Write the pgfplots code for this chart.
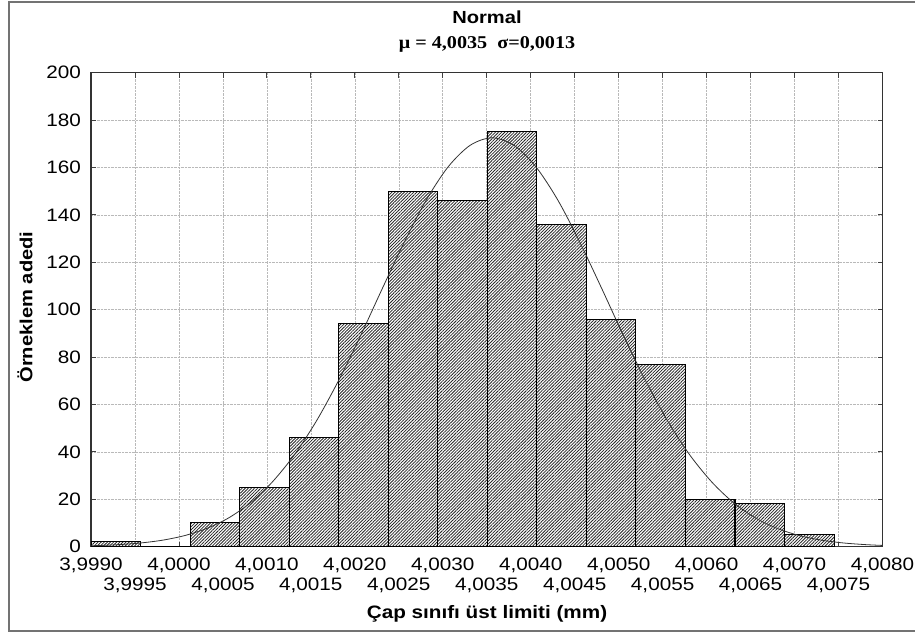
\documentclass[border=0pt]{standalone}
\usepackage{pgfplots}
\pgfplotsset{compat=1.18}
\usetikzlibrary{patterns.meta}
\usepackage{fontspec}
\setmainfont{Liberation Sans}[FakeStretch=1.15]
\newfontfamily\serifb{Liberation Serif}[FakeStretch=1.12]
\begin{document}
\begin{tikzpicture}
\useasboundingbox[fill=white] (0pt,0pt) rectangle (915pt,-637pt);
\begin{axis}[
  at={(91pt,-546.6pt)}, anchor=south west, scale only axis,
  width=791.5pt, height=474pt,
  xmin=0, xmax=9, ymin=0, ymax=200,
  xtick={0,1,2,3,4,5,6,7,8,9},
  xticklabels={3{,}9990,4{,}0000,4{,}0010,4{,}0020,4{,}0030,4{,}0040,4{,}0050,4{,}0060,4{,}0070,4{,}0080},
  extra x ticks={0.5,1.5,2.5,3.5,4.5,5.5,6.5,7.5,8.5},
  extra x tick labels={3{,}9995,4{,}0005,4{,}0015,4{,}0025,4{,}0035,4{,}0045,4{,}0055,4{,}0065,4{,}0075},
  extra x tick style={grid=major, xticklabel style={yshift=-19.3pt}},
  ytick={0,20,...,200},
  /pgf/number format/assume math mode=true,
  grid=major,
  major grid style={densely dotted, gray!55, line width=0.6pt},
  tick align=inside, major tick length=5pt,
  tick style={black!75, line width=0.8pt},
  axis line style={black!80, line width=1.2pt},
  xticklabel style={anchor=center, yshift=-19pt, font=\fontsize{18}{18}\selectfont},
  yticklabel style={anchor=east, inner sep=0pt, xshift=-10pt, font=\fontsize{18}{18}\selectfont},
]
\addplot[ybar interval, draw=black, line width=1.1pt, fill=white,
  postaction={pattern={Lines[angle=45,distance=2.2pt,line width=0.8pt]}, pattern color=black!85}]
  coordinates {
  (0,2) (0.5633,0) (1.1266,10) (1.6899,25) (2.2532,46) (2.8165,94)
  (3.3798,150) (3.9431,146) (4.5064,175) (5.0697,136) (5.6330,96)
  (6.1963,77) (6.7596,20) (7.3229,18) (7.8862,5) (8.4495,5)
  };
\addplot[smooth, black!80, line width=0.8pt] coordinates {
  (0,0.40) (0.06,0.43) (0.31,0.83) (0.56,1.52) (0.81,2.69) (1.06,4.60)
  (1.31,7.58) (1.56,12.0) (1.81,18.4) (2.06,27.2) (2.31,38.6) (2.56,52.8)
  (2.81,69.7) (3.06,88.6) (3.31,108.7) (3.56,128.3) (3.81,146.1) (4.06,160.2)
  (4.31,169.3) (4.56,172.5) (4.81,169.3) (5.06,160.2) (5.31,146.1) (5.56,128.3)
  (5.81,108.7) (6.06,88.6) (6.31,69.7) (6.56,52.8) (6.81,38.6) (7.06,27.2)
  (7.31,18.4) (7.56,12.0) (7.81,7.58) (8.06,4.60) (8.31,2.69) (8.56,1.52)
  (8.81,0.83) (9,0.50)
  };
\end{axis}
\node[font=\bfseries\fontsize{17.5}{17.5}\selectfont] at (487pt,-17pt) {Normal};
\node[font=\serifb\bfseries\fontsize{18}{18}\selectfont] at (487pt,-44pt) {μ = 4,0035\ \ σ=0,0013};
\node[font=\bfseries\fontsize{18}{18}\selectfont] at (487pt,-614pt) {Çap sınıfı üst limiti (mm)};
\node[font=\bfseries\fontsize{17.5}{17.5}\selectfont, rotate=90] at (25pt,-307pt) {Örneklem adedi};
\draw[gray!90!black, line width=2pt] (915pt,-2pt) -- (9pt,-2pt) -- (9pt,-631pt) -- (915pt,-631pt);
\end{tikzpicture}
\end{document}
